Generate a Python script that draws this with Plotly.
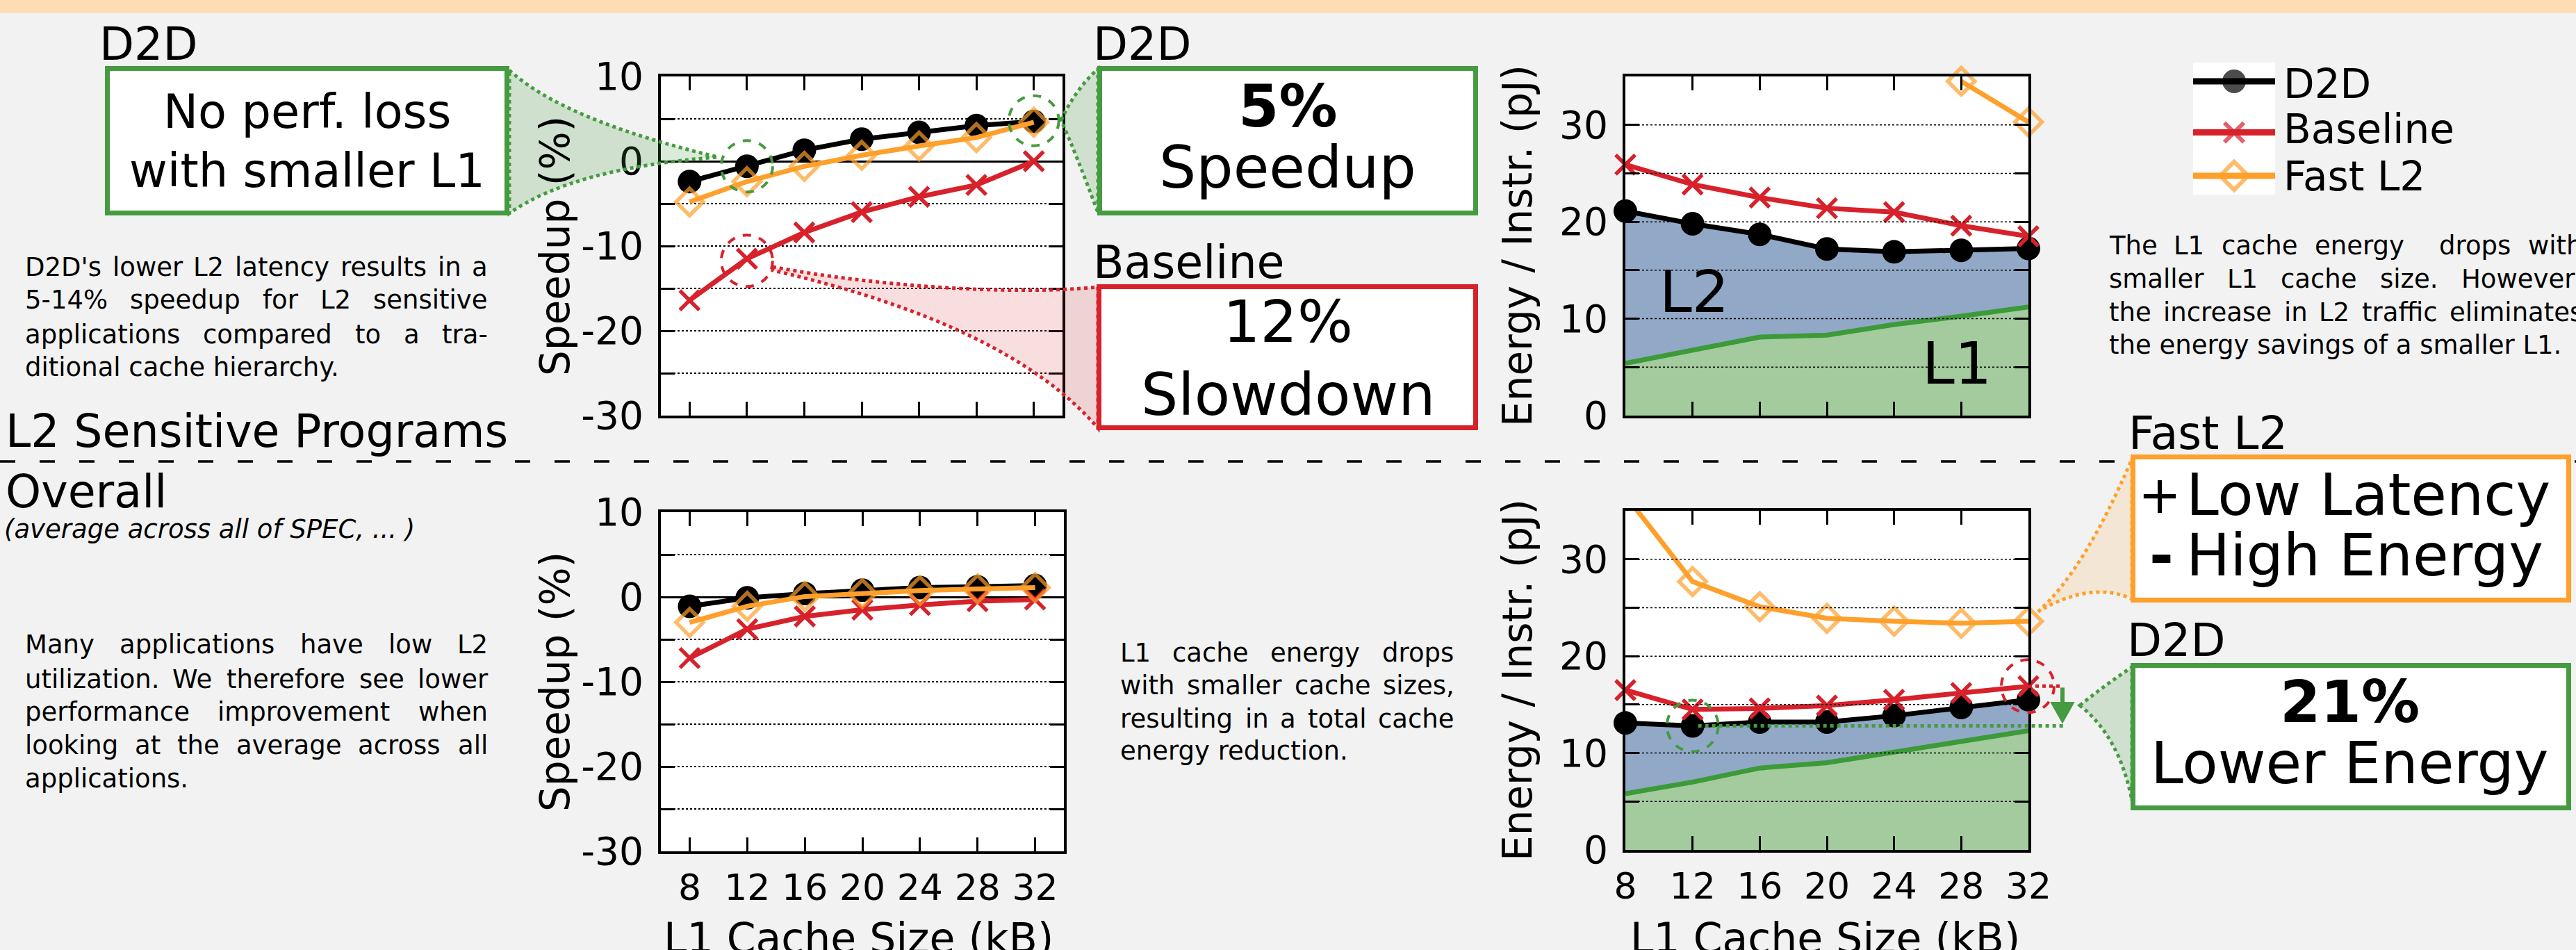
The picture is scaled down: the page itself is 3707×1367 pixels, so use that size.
import plotly.graph_objects as go

# ---------------- data ----------------
sizes = [8, 12, 16, 20, 24, 28, 32]
size_labels = ['8', '12', '16', '20', '24', '28', '32']

# L2 sensitive programs: speedup (%)
sens_speedup_d2d = [-2.4, -0.6, 1.3, 2.6, 3.4, 4.2, 4.7]
sens_speedup_base = [-16.4, -11.5, -8.4, -6.0, -4.2, -2.8, 0.0]
sens_speedup_fast = [-4.8, -2.4, -0.6, 0.7, 1.8, 2.8, 4.6]
# L2 sensitive programs: energy / instr (pJ)
sens_energy_d2d = [21.1, 19.8, 18.7, 17.2, 16.9, 17.05, 17.25]
sens_energy_base = [25.9, 23.85, 22.5, 21.4, 21.0, 19.6, 18.5]
sens_energy_fast = [None, None, None, None, None, 34.5, 30.3]
sens_energy_l1 = [5.4, 6.7, 8.1, 8.3, 9.4, 10.25, 11.2]
# Overall: speedup (%)
all_speedup_d2d = [-1.1, -0.1, 0.4, 0.8, 1.1, 1.2, 1.35]
all_speedup_base = [-7.2, -3.8, -2.3, -1.5, -0.95, -0.5, -0.3]
all_speedup_fast = [-3.0, -1.1, 0.05, 0.4, 0.75, 0.95, 1.1]
# Overall: energy / instr (pJ)
all_energy_d2d = [13.1, 12.8, 13.2, 13.2, 13.85, 14.7, 15.5]
all_energy_base = [16.5, 14.5, 14.6, 14.9, 15.5, 16.2, 16.9]
all_energy_fast = [36.6, 27.7, 25.1, 23.9, 23.6, 23.4, 23.6]
all_energy_l1 = [5.8, 7.0, 8.45, 9.0, 10.1, 11.2, 12.3]

speed_ticks = [-30, -25, -20, -15, -10, -5, 0, 5, 10]
speed_ticktext = ['-30', '', '-20', '', '-10', '', '0', '', '10']
energy_ticks = [0, 5, 10, 15, 20, 25, 30]
energy_ticktext = ['0', '', '10', '', '20', '', '30']

# ---------------- style ----------------
W, H = 3707, 1367
FONT = 'DejaVu Sans'
BG = '#f2f2f2'
GREEN = '#459b40'
RED = '#d7212b'
ORANGE = '#fea02b'
BLUE_AREA = '#92a8c7'
GREEN_AREA = '#a3cb9e'
L1_LINE = '#3d9a38'
LW = 7

def px(x):
    return x / W

def py(y):
    return 1 - y / H

# subplot pixel boxes: (left, right), (top, bottom)
TL = dict(x=(951, 1529), y=(110, 598), xr=[6, 34], yr=[-30, 10])
TR = dict(x=(2339, 2919), y=(110, 598), xr=[8, 32], yr=[0, 35])
BL = dict(x=(951, 1531), y=(737, 1225), xr=[6, 34], yr=[-30, 10])
BR = dict(x=(2339, 2919), y=(735, 1223), xr=[8, 32], yr=[0, 35])

def dx(box, v):
    (a, b), r = box['x'], box['xr']
    return a + (v - r[0]) / (r[1] - r[0]) * (b - a)

def dy(box, v):
    (t, b), r = box['y'], box['yr']
    return b - (v - r[0]) / (r[1] - r[0]) * (b - t)

fig = go.Figure()

def series(xa, ya, d2d, base, fast, ymax=None):
    def msizes(vals, s):
        return [0 if (ymax is not None and v is not None and v > ymax) else s for v in vals]
    fig.add_trace(go.Scatter(x=sizes, y=d2d, xaxis=xa, yaxis=ya, mode='lines+markers',
                             line=dict(color='black', width=LW),
                             marker=dict(symbol='circle', size=34, color='black'),
                             cliponaxis=False, showlegend=False, hoverinfo='skip'))
    fig.add_trace(go.Scatter(x=sizes, y=base, xaxis=xa, yaxis=ya, mode='lines+markers',
                             line=dict(color=RED, width=LW),
                             marker=dict(symbol='x-thin', size=28, color=RED,
                                         line=dict(color=RED, width=5.5)),
                             cliponaxis=False, showlegend=False, hoverinfo='skip'))
    fig.add_trace(go.Scatter(x=sizes, y=fast, xaxis=xa, yaxis=ya, mode='lines+markers',
                             line=dict(color=ORANGE, width=LW),
                             marker=dict(symbol='diamond-open', size=msizes(fast, 30), color=ORANGE,
                                         line=dict(color=ORANGE, width=5.5)),
                             cliponaxis=False, showlegend=False, hoverinfo='skip'))

def areas(xa, ya, l1, total):
    fig.add_trace(go.Scatter(x=sizes, y=l1, xaxis=xa, yaxis=ya, mode='lines',
                             line=dict(color=L1_LINE, width=7), fill='tozeroy',
                             fillcolor=GREEN_AREA, showlegend=False, hoverinfo='skip'))
    fig.add_trace(go.Scatter(x=sizes, y=total, xaxis=xa, yaxis=ya, mode='lines',
                             line=dict(color='black', width=0.1), fill='tonexty',
                             fillcolor=BLUE_AREA, showlegend=False, hoverinfo='skip'))

# top-left: speedup, L2 sensitive
series('x', 'y', sens_speedup_d2d, sens_speedup_base, sens_speedup_fast)
# top-right: energy, L2 sensitive
areas('x2', 'y2', sens_energy_l1, sens_energy_d2d)
series('x2', 'y2', sens_energy_d2d, sens_energy_base, sens_energy_fast, ymax=35)
# bottom-left: speedup, overall
series('x3', 'y3', all_speedup_d2d, all_speedup_base, all_speedup_fast)
# bottom-right: energy, overall
areas('x4', 'y4', all_energy_l1, all_energy_d2d)
series('x4', 'y4', all_energy_d2d, all_energy_base, all_energy_fast, ymax=35)

# legend (drawn on its own hidden axis)
legend_names = ['D2D', 'Baseline', 'Fast L2']
legend_rows = [117, 190.6, 253]
leg_top, leg_bot = 90, 280
leg_specs = [
    dict(color='black', symbol='circle', size=34, lw=0),
    dict(color=RED, symbol='x-thin', size=28, lw=6),
    dict(color=ORANGE, symbol='diamond-open', size=31, lw=6),
]
for row, spec in zip(legend_rows, leg_specs):
    v = (leg_bot - row) / (leg_bot - leg_top)
    fig.add_trace(go.Scatter(x=[0, 0.5, 1], y=[v, v, v], xaxis='x5', yaxis='y5',
                             mode='lines+markers', line=dict(color=spec['color'], width=9),
                             marker=dict(symbol=spec['symbol'], size=[0, spec['size'], 0],
                                         color=spec['color'],
                                         line=dict(color=spec['color'], width=spec['lw'])),
                             cliponaxis=False, showlegend=False, hoverinfo='skip'))

# ---------------- axes ----------------
common = dict(ticks='inside', ticklen=20, tickwidth=3, tickcolor='black', showline=True,
              linecolor='black', linewidth=4, mirror='allticks', fixedrange=True, automargin=False,
              tickfont=dict(family=FONT, size=55, color='black'))

def xaxis_cfg(box, anchor, labels):
    return dict(common, domain=[px(box['x'][0]), px(box['x'][1])], range=box['xr'], anchor=anchor,
                tickmode='array', tickvals=sizes, ticktext=size_labels, showticklabels=labels,
                showgrid=False, zeroline=False, ticklabelstandoff=4,
                tickfont=dict(family=FONT, size=52, color='black'))

def yaxis_speed(box, anchor):
    return dict(common, domain=[py(box['y'][1]), py(box['y'][0])], range=box['yr'], anchor=anchor,
                tickmode='array', tickvals=speed_ticks, ticktext=speed_ticktext,
                showgrid=True, gridcolor='black', griddash='dot', gridwidth=1.5,
                zeroline=True, zerolinecolor='black', zerolinewidth=3, ticklabelstandoff=10)

def yaxis_energy(box, anchor):
    return dict(common, domain=[py(box['y'][1]), py(box['y'][0])], range=box['yr'], anchor=anchor,
                tickmode='array', tickvals=energy_ticks, ticktext=energy_ticktext,
                showgrid=False, zeroline=False, ticklabelstandoff=10)

layout = dict(
    width=W, height=H, margin=dict(l=0, r=0, t=0, b=0, pad=0, autoexpand=False),
    paper_bgcolor=BG, plot_bgcolor='white', showlegend=False,
    font=dict(family=FONT, color='black'),
    xaxis=xaxis_cfg(TL, 'y', False), yaxis=yaxis_speed(TL, 'x'),
    xaxis2=xaxis_cfg(TR, 'y2', False), yaxis2=yaxis_energy(TR, 'x2'),
    xaxis3=xaxis_cfg(BL, 'y3', True), yaxis3=yaxis_speed(BL, 'x3'),
    xaxis4=xaxis_cfg(BR, 'y4', True), yaxis4=yaxis_energy(BR, 'x4'),
    xaxis5=dict(domain=[px(3156), px(3274)], range=[0, 1], visible=False, anchor='y5',
                fixedrange=True, automargin=False),
    yaxis5=dict(domain=[py(leg_bot), py(leg_top)], range=[0, 1], visible=False, anchor='x5',
                fixedrange=True, automargin=False),
)
fig.update_layout(**layout)

# ---------------- shapes ----------------
shapes = []

def path(cmds):
    out = []
    for c in cmds:
        op, nums = c[0], c[1:]
        pts = []
        for i in range(0, len(nums), 2):
            pts.append('%.6f,%.6f' % (px(nums[i]), py(nums[i + 1])))
        out.append(op + ' '.join(pts))
    return ' '.join(out)

def add_path(cmds, fill, color, width=5, dash='dot'):
    shapes.append(dict(type='path', xref='paper', yref='paper', path=path(cmds),
                       fillcolor=fill, line=dict(color=color, width=width, dash=dash), layer='above'))

def add_line(x0, y0, x1, y1, color, width, dash='solid', layer='above'):
    shapes.append(dict(type='line', xref='paper', yref='paper', x0=px(x0), y0=py(y0), x1=px(x1), y1=py(y1),
                       line=dict(color=color, width=width, dash=dash), layer=layer))

def add_box(x0, y0, x1, y1, color, width=7):
    h = width / 2
    shapes.append(dict(type='rect', xref='paper', yref='paper', x0=px(x0 + h), x1=px(x1 - h),
                       y0=py(y1 - h), y1=py(y0 + h), fillcolor='white',
                       line=dict(color=color, width=width), layer='above'))

def add_circle(cx, cy, r, color):
    shapes.append(dict(type='circle', xref='paper', yref='paper', x0=px(cx - r), x1=px(cx + r),
                       y0=py(cy + r), y1=py(cy - r), fillcolor='rgba(0,0,0,0)',
                       line=dict(color=color, width=4, dash='dash'), layer='above'))

# top peach band
shapes.append(dict(type='rect', xref='paper', yref='paper', x0=0, x1=1, y0=py(18.5), y1=1,
                   fillcolor='#fedcb4', line=dict(width=0), layer='below'))
# section separator
add_line(0, 664, W, 664, 'black', 3.5, dash='22px,35px', layer='below')

# energy grid lines (over the area fills)
for ax, box in (('2', TR), ('4', BR)):
    for v in [5, 10, 15, 20, 25, 30]:
        shapes.append(dict(type='line', xref='x%s domain' % ax, yref='y%s' % ax, x0=0, x1=1, y0=v, y1=v,
                           line=dict(color='black', width=1.5, dash='dot'), layer='above'))

# funnels
add_path([('M', 733, 101), ('Q', 811, 173, 1033, 226), ('Q', 825, 242, 733, 307), ('Z',)],
         'rgba(69,155,64,0.2)', GREEN)
add_path([('M', 1527, 173), ('Q', 1548, 128, 1580, 99), ('L', 1580, 306), ('Q', 1550, 225, 1527, 173), ('Z',)],
         'rgba(69,155,64,0.2)', GREEN)
add_path([('M', 1112, 384), ('C', 1250, 410, 1450, 426, 1580, 413), ('L', 1580, 616),
          ('Q', 1452, 467, 1112, 389), ('Z',)], 'rgba(215,33,43,0.15)', RED)
add_path([('M', 2933, 880), ('Q', 3000, 820, 3068, 660), ('L', 3068, 862), ('Q', 3010, 835, 2933, 880), ('Z',)],
         'rgba(254,160,43,0.15)', ORANGE)
add_path([('M', 2993, 1015), ('Q', 3030, 985, 3068, 960), ('L', 3068, 1152), ('Q', 3050, 1060, 2993, 1015), ('Z',)],
         'rgba(69,155,64,0.2)', GREEN)

# highlight circles (centred on the data points)
add_circle(dx(TL, 12), dy(TL, sens_speedup_d2d[1]), 37, GREEN)
add_circle(dx(TL, 32), dy(TL, sens_speedup_d2d[6]) - 1, 36, GREEN)
add_circle(dx(TL, 12), dy(TL, sens_speedup_base[1]) + 3, 37, RED)
add_circle(dx(BR, 32) - 1, dy(BR, all_energy_base[6]), 38, RED)
add_circle(dx(BR, 12), dy(BR, all_energy_d2d[1]), 37, GREEN)

# energy reduction marker (bottom-right)
y_hi = dy(BR, all_energy_base[6])
y_lo = dy(BR, all_energy_d2d[1])
x_arrow = 2968
add_line(dx(BR, 32), y_hi, x_arrow, y_hi, RED, 5, dash='dot')
add_line(dx(BR, 12) + 8, y_lo, x_arrow + 2, y_lo, GREEN, 5, dash='dot')
add_line(x_arrow, y_hi + 2, x_arrow, y_lo - 32, GREEN, 6)
add_path([('M', x_arrow - 17, y_lo - 34), ('L', x_arrow + 17, y_lo - 34), ('L', x_arrow, y_lo - 4), ('Z',)],
         GREEN, GREEN, width=1, dash='solid')

# callout boxes
add_box(151, 95, 733, 310, GREEN)
add_box(1579, 95, 2127, 310, GREEN)
add_box(1578, 409, 2127, 619, RED)
add_box(3066, 654, 3700, 867, ORANGE)
add_box(3066, 954, 3700, 1166, GREEN)

fig.update_layout(shapes=shapes)

# ---------------- text ----------------
anns = []

def A(x, y, text, size, xa='center', ya='middle', angle=0, color='black'):
    anns.append(dict(x=px(x), y=py(y), xref='paper', yref='paper', text=text, showarrow=False,
                     xanchor=xa, yanchor=ya, textangle=angle, borderpad=0, borderwidth=0,
                     font=dict(family=FONT, size=size, color=color)))

CW = {' ': .318, '!': .401, "'": .275, '(': .390, ')': .390, ',': .318, '-': .361, '.': .318,
      '%': .950, '/': .337, ':': .337, '0': .636, '1': .636, '2': .636, '3': .636, '4': .636,
      '5': .636, '6': .636, '7': .636, '8': .636, '9': .636,
      'A': .684, 'B': .686, 'C': .698, 'D': .770, 'E': .632, 'F': .575, 'G': .775, 'H': .752,
      'I': .295, 'J': .295, 'K': .656, 'L': .557, 'M': .863, 'N': .748, 'O': .787, 'P': .603,
      'R': .695, 'S': .635, 'T': .611, 'U': .732, 'V': .684, 'W': .989, 'Y': .611,
      'a': .613, 'b': .635, 'c': .550, 'd': .635, 'e': .615, 'f': .352, 'g': .635, 'h': .634,
      'i': .278, 'j': .278, 'k': .579, 'l': .278, 'm': .974, 'n': .634, 'o': .612, 'p': .635,
      'q': .635, 'r': .411, 's': .521, 't': .392, 'u': .634, 'v': .592, 'w': .818, 'x': .592,
      'y': .592, 'z': .525}

def tw(s, size):
    return sum(CW.get(c, .6) for c in s) * size

def paragraph(lines, x0, x1, ys, size):
    for i, (line, yy) in enumerate(zip(lines, ys)):
        words = line.split(' ')
        if i == len(lines) - 1 or len(words) < 2:
            A(x0, yy, line, size, xa='left')
            continue
        total = sum(tw(w, size) for w in words)
        gap = (x1 - x0 - total) / (len(words) - 1)
        cur = x0
        for w in words:
            if w:
                A(cur, yy, w, size, xa='left')
            cur += tw(w, size) + gap

PS = 37
paragraph(["D2D's lower L2 latency results in a", "5-14% speedup for L2 sensitive",
           "applications compared to a tra-", "ditional cache hierarchy."],
          36, 702, [384, 432, 481, 528], PS)
paragraph(["Many applications have low L2", "utilization. We therefore see lower",
           "performance improvement when", "looking at the average across all", "applications."],
          36, 702, [927, 977, 1024, 1072, 1120], PS)
paragraph(["L1 cache energy drops", "with smaller cache sizes,", "resulting in a total cache",
           "energy reduction."], 1612, 2093, [939, 987, 1034, 1080], PS)
paragraph(["The L1 cache energy  drops with", "smaller L1 cache size. However,",
           "the increase in L2 traffic eliminates", "the energy savings of a smaller L1."],
          3035, 3717, [354, 401, 449, 496], PS)

# section titles
TS = 65
A(143, 64, 'D2D', TS, xa='left')
A(1573, 64, 'D2D', TS, xa='left')
A(1573, 377, 'Baseline', TS, xa='left')
A(8, 620, 'L2 Sensitive Programs', TS, xa='left')
A(8, 708, 'Overall', TS, xa='left')
A(6, 761, '<i>(average across all of SPEC, ... )</i>', PS, xa='left')
A(3063, 623, 'Fast L2', TS, xa='left')
A(3061, 921, 'D2D', TS, xa='left')

# callout box texts
A(442, 161, 'No perf. loss', 67)
A(442, 246, 'with smaller L1', 67)
A(1853, 153, '<b>5%</b>', 84)
A(1853, 241, 'Speedup', 84)
A(1853, 463, '12%', 84)
A(1853, 568, 'Slowdown', 84)
A(3108, 712, '+', 74)
A(3146, 712, 'Low Latency', 84, xa='left')
A(3110, 799, '<b>-</b>', 84)
A(3146, 799, 'High Energy', 84, xa='left')
A(3381, 1010, '<b>21%</b>', 84)
A(3381, 1098, 'Lower Energy', 84)

# area labels
A(2438, 420, 'L2', 84)
A(2816, 523, 'L1', 84)

# axis titles
AS = 58
A(799, 354, 'Speedup (%)', AS, angle=-90)
A(799, 981, 'Speedup (%)', AS, angle=-90)
A(2184, 354, 'Energy / Instr. (pJ)', AS, angle=-90)
A(2184, 979, 'Energy / Instr. (pJ)', AS, angle=-90)
A(1235, 1350, 'L1 Cache Size (kB)', 60)
A(2626, 1350, 'L1 Cache Size (kB)', 60)

# legend labels
for name, yy in zip(legend_names, [121, 186, 254]):
    A(3286, yy, name, 58, xa='left')

fig.update_layout(annotations=anns)
fig.write_html('out.html', config={'displayModeBar': False},
               post_script="document.body.style.margin='0';document.body.style.overflow='hidden';")
